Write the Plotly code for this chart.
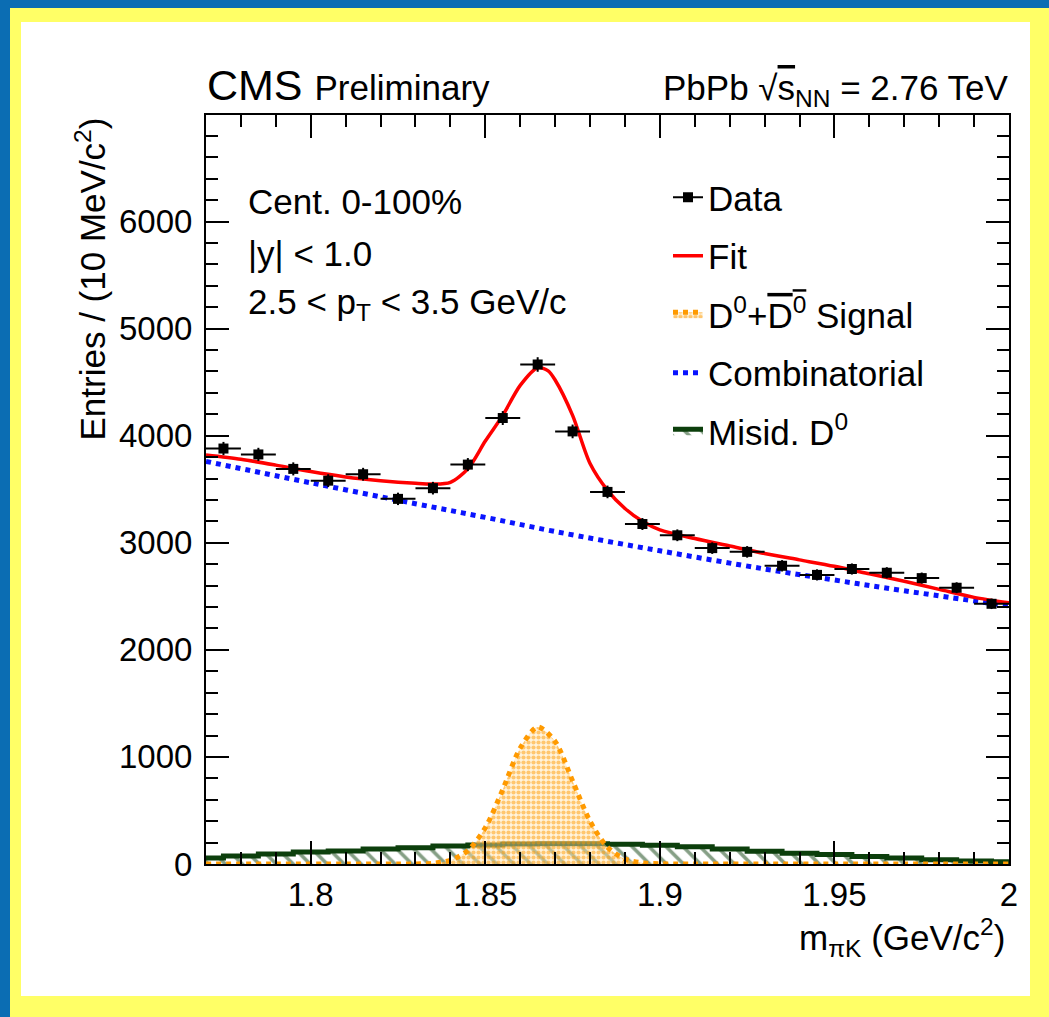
import plotly.graph_objects as go

# ---------------- data ----------------
mass_bins = [1.775, 1.785, 1.795, 1.805, 1.815, 1.825, 1.835, 1.845, 1.855, 1.865,
             1.875, 1.885, 1.895, 1.905, 1.915, 1.925, 1.935, 1.945, 1.955, 1.965,
             1.975, 1.985, 1.995]
entries = [3880, 3825, 3690, 3580, 3640, 3410, 3510, 3730, 4165, 4665,
           4040, 3475, 3175, 3070, 2950, 2915, 2785, 2700, 2755, 2720,
           2670, 2580, 2430]
entries_err = [62, 62, 61, 60, 60, 58, 59, 61, 65, 68,
               64, 59, 56, 55, 54, 54, 53, 52, 52, 52,
               52, 51, 49]
bin_half_width = 0.005

fit_x = [1.770, 1.780, 1.790, 1.800, 1.810, 1.820, 1.830, 1.835, 1.840, 1.845,
         1.850, 1.855, 1.860, 1.865, 1.868, 1.870, 1.875, 1.880, 1.885, 1.890,
         1.895, 1.900, 1.910, 1.920, 1.930, 1.940, 1.950, 1.960, 1.970, 1.980,
         1.990, 2.000]
fit_y = [3820, 3780, 3725, 3665, 3615, 3580, 3555, 3548, 3565, 3690,
         3950, 4190, 4470, 4635, 4605, 4520, 4190, 3740, 3490, 3320,
         3200, 3120, 3040, 2970, 2900, 2840, 2780, 2710, 2640, 2565,
         2490, 2440]

signal_x = [1.770, 1.790, 1.810, 1.820, 1.825, 1.830, 1.835, 1.840, 1.845, 1.850,
            1.855, 1.860, 1.865, 1.870, 1.875, 1.880, 1.885, 1.890, 1.895, 1.900,
            1.905, 1.910, 1.930, 1.950, 1.970, 2.000]
signal_y = [0, 0, 0, 0, 0, 1, 7, 35, 125, 338,
            695, 1083, 1279, 1144, 776, 399, 156, 46, 10, 2,
            0, 0, 0, 0, 0, 0]

comb_x = [1.770, 1.800, 1.830, 1.850, 1.870, 1.900, 1.930, 1.950, 1.970, 2.000]
comb_y = [3760, 3560, 3365, 3237, 3105, 2925, 2755, 2652, 2552, 2410]

misid_x = [1.77, 1.78, 1.79, 1.80, 1.81, 1.82, 1.83, 1.84, 1.85, 1.86, 1.87, 1.88,
           1.89, 1.90, 1.91, 1.92, 1.93, 1.94, 1.95, 1.96, 1.97, 1.98, 1.99, 2.00]
misid_y = [56, 75, 93, 112, 121, 140, 152, 168, 178, 186, 190, 190,
           185, 175, 160, 140, 118, 100, 88, 70, 55, 40, 28, 20]

x_tick_vals = [1.8, 1.85, 1.9, 1.95, 2.0]
x_tick_text = ["1.8", "1.85", "1.9", "1.95", "2"]
y_tick_vals = [0, 1000, 2000, 3000, 4000, 5000, 6000]

legend_names = ["Data", "Fit",
                'D<sup>0</sup>+<span style="text-decoration:overline">D<sup>0</sup></span> Signal',
                "Combinatorial", "Misid. D<sup>0</sup>"]

# ---------------- styling ----------------
FONT = "Liberation Sans, Arial, Helvetica, sans-serif"
GREEN = "#0c3f0c"
ORANGE = "#ff9a00"
BLUE = "#0a14ff"
RED = "#ff0000"
FS = 35

# plot area in pixels: x 206..1009, y 115..864
L, R, T, B = 206, 40, 115, 153
W, H = 1049, 1017
PW, PH = W - L - R, H - T - B


def xp(px):
    return (px - L) / PW


def yp(py):
    return (H - B - py) / PH


misid_pattern = dict(shape="\\", fgcolor=GREEN, bgcolor="rgba(0,0,0,0)",
                     size=12, solidity=0.3)
signal_pattern = dict(shape=".", fgcolor=ORANGE, bgcolor="rgba(255,228,180,0.45)",
                      size=5, solidity=0.55)

fig = go.Figure()

fig.add_trace(go.Scatter(
    x=misid_x, y=misid_y, mode="lines", showlegend=False,
    line=dict(color=GREEN, width=5, shape="hvh"),
    fill="tozeroy", fillcolor="rgba(0,0,0,0)", fillpattern=misid_pattern))

fig.add_trace(go.Scatter(
    x=signal_x, y=signal_y, mode="lines", showlegend=False,
    line=dict(color=ORANGE, width=5, dash="dot", shape="spline", smoothing=0.8),
    fill="tozeroy", fillcolor="rgba(255,214,150,0.35)", fillpattern=signal_pattern))

fig.add_trace(go.Scatter(
    x=comb_x, y=comb_y, mode="lines", name=legend_names[3],
    line=dict(color=BLUE, width=5, dash="dot", shape="spline"),
    legendrank=4, legendgroup="d"))

fig.add_trace(go.Scatter(
    x=fit_x, y=fit_y, mode="lines", name=legend_names[1],
    line=dict(color=RED, width=3.5, shape="spline", smoothing=0.8),
    legendrank=2, legendgroup="b"))

fig.add_trace(go.Scatter(
    x=mass_bins, y=entries, mode="markers", showlegend=False,
    marker=dict(symbol="square", size=10, color="black"),
    error_x=dict(type="constant", value=bin_half_width, color="black",
                 thickness=2, width=0),
    error_y=dict(type="data", array=entries_err, color="black",
                 thickness=2, width=0)))

# legend-only entries (no data drawn)
fig.add_trace(go.Scatter(
    x=[None], y=[None], mode="lines+markers", name=legend_names[0],
    line=dict(color="black", width=2),
    marker=dict(symbol="square", size=10, color="black"),
    legendrank=1, legendgroup="a"))
fig.add_trace(go.Scatter(
    x=[None], y=[None], mode="lines", name=legend_names[2],
    line=dict(color=ORANGE, width=5, dash="dot"),
    fill="toself", fillcolor="rgba(255,214,150,0.35)", fillpattern=signal_pattern,
    legendrank=3, legendgroup="c"))
fig.add_trace(go.Scatter(
    x=[None], y=[None], mode="lines", name=legend_names[4],
    line=dict(color=GREEN, width=5),
    fill="toself", fillcolor="rgba(0,0,0,0)", fillpattern=misid_pattern,
    legendrank=5, legendgroup="e"))

axis_common = dict(
    showline=True, linecolor="black", linewidth=2, mirror="allticks",
    ticks="inside", ticklen=23, tickwidth=2, tickcolor="black",
    showgrid=False, zeroline=False,
    tickfont=dict(family=FONT, size=33, color="black"),
)

fig.update_xaxes(range=[1.77, 2.0], tickvals=x_tick_vals, ticktext=x_tick_text,
                 minor=dict(ticks="inside", ticklen=12, tickwidth=2, tickcolor="black",
                            dtick=0.01, tick0=1.77, showgrid=False),
                 ticklabelstandoff=0, **axis_common)
fig.update_yaxes(range=[0, 6995], tickvals=y_tick_vals,
                 minor=dict(ticks="inside", ticklen=12, tickwidth=2, tickcolor="black",
                            dtick=200, tick0=0, showgrid=False),
                 ticklabelstandoff=5, **axis_common)

shapes = [
    dict(type="rect", xref="paper", yref="paper", layer="below",
         x0=xp(10), x1=xp(1060), y0=yp(1030), y1=yp(8),
         fillcolor="#ffff66", line=dict(width=0)),
    dict(type="rect", xref="paper", yref="paper", layer="below",
         x0=xp(21), x1=xp(1030), y0=yp(996), y1=yp(22),
         fillcolor="white", line=dict(width=0)),
]

annotations = [
    dict(text='CMS <span style="font-size:35px">Preliminary</span>',
         x=xp(205), y=yp(85), xanchor="left", yanchor="middle",
         font=dict(family=FONT, size=43, color="black")),
    dict(text='PbPb √<span style="text-decoration:overline">s</span><sub>NN</sub> = 2.76 TeV',
         x=xp(1011), y=yp(90), xanchor="right", yanchor="middle",
         font=dict(family=FONT, size=FS, color="black")),
    dict(text="Cent. 0-100%", x=xp(246), y=yp(201), xanchor="left", yanchor="middle",
         font=dict(family=FONT, size=FS, color="black")),
    dict(text="|y| &lt; 1.0", x=xp(246), y=yp(253), xanchor="left", yanchor="middle",
         font=dict(family=FONT, size=FS, color="black")),
    dict(text="2.5 &lt; p<sub>T</sub> &lt; 3.5 GeV/c", x=xp(246), y=yp(304),
         xanchor="left", yanchor="middle",
         font=dict(family=FONT, size=FS, color="black")),
    dict(text="Entries / (10 MeV/c<sup>2</sup>)", textangle=-90,
         x=xp(90), y=yp(116), xanchor="center", yanchor="top",
         font=dict(family=FONT, size=FS, color="black")),
    dict(text="m<sub>πK</sub> (GeV/c<sup>2</sup>)",
         x=xp(1007), y=yp(937), xanchor="right", yanchor="middle",
         font=dict(family=FONT, size=FS, color="black")),
]
for a in annotations:
    a.update(xref="paper", yref="paper", showarrow=False)

fig.update_layout(
    width=W, height=H,
    margin=dict(l=L, r=R, t=T, b=B, autoexpand=False),
    paper_bgcolor="#0b6db3", plot_bgcolor="white",
    font=dict(family=FONT, size=FS, color="black"),
    shapes=shapes, annotations=annotations,
    legend=dict(x=xp(668), y=yp(168), xanchor="left", yanchor="top",
                bgcolor="rgba(0,0,0,0)", font=dict(family=FONT, size=FS, color="black"),
                tracegroupgap=10, traceorder="grouped"),
)

fig.write_html("out.html")
